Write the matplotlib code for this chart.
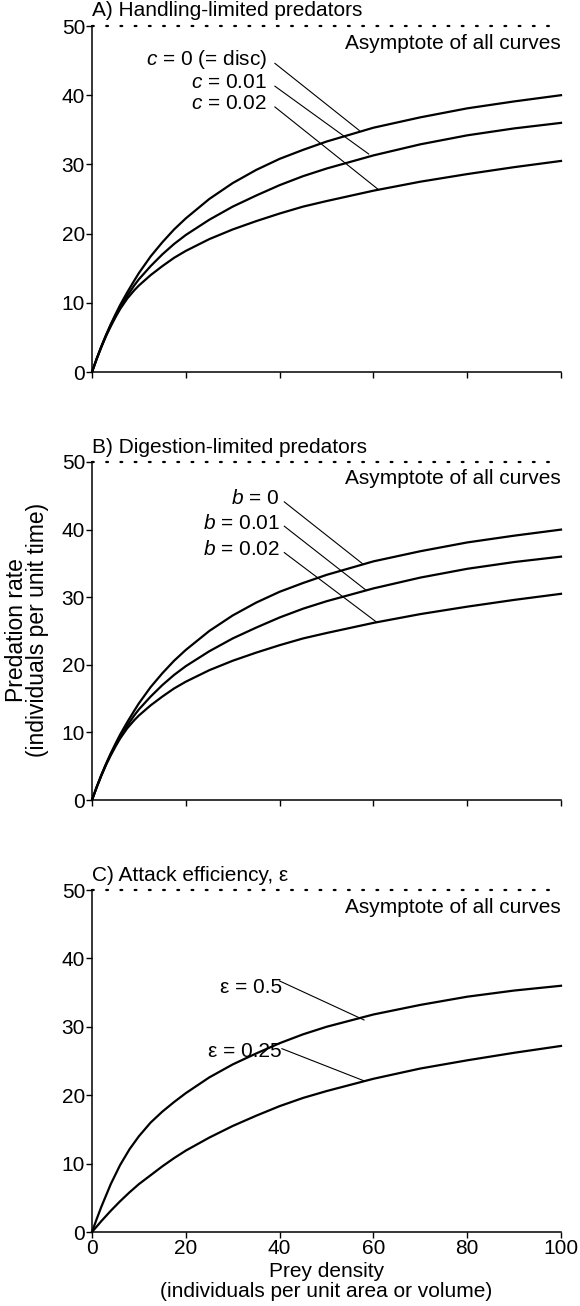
import matplotlib
matplotlib.use("Agg")
import matplotlib.pyplot as plt

plt.rcParams['font.family'] = ['Liberation Sans', 'DejaVu Sans']
plt.rcParams['mathtext.fontset'] = 'custom'
plt.rcParams['mathtext.rm'] = 'Liberation Sans'
plt.rcParams['mathtext.it'] = 'Liberation Sans:italic'

# ---- data ----
prey_ab = [0, 1, 2, 3, 4, 5, 6, 7.5, 9, 10, 12.5, 15, 17.5, 20, 25, 30, 35, 40, 45,
           50, 60, 70, 80, 90, 100]
curve_0 = [0, 1.92, 3.70, 5.36, 6.90, 8.33, 9.68, 11.5, 13.2, 14.3, 16.7, 18.75, 20.6,
           22.2, 25.0, 27.3, 29.2, 30.8, 32.1, 33.3, 35.3, 36.8, 38.1, 39.1, 40.0]
curve_001 = [0, 1.9, 3.7, 5.3, 6.8, 8.1, 9.3, 11.0, 12.5, 13.4, 15.3, 17.0, 18.5,
             19.8, 22.0, 23.9, 25.5, 27.0, 28.3, 29.4, 31.3, 32.9, 34.2, 35.2, 36.0]
curve_002 = [0, 1.9, 3.6, 5.2, 6.6, 7.9, 9.1, 10.6, 11.8, 12.5, 14.0, 15.3, 16.5,
             17.5, 19.2, 20.6, 21.8, 22.9, 23.9, 24.7, 26.2, 27.5, 28.6, 29.6, 30.5]

prey_c = [0, 1, 2, 4, 6, 8, 10, 12.5, 15, 17.5, 20, 25, 30, 35, 40, 45, 50, 60, 70, 80, 90, 100]
eps_05 = [0, 1.9, 3.7, 7.0, 9.8, 12.1, 14.0, 16.0, 17.6, 19.0, 20.3, 22.6, 24.5, 26.1,
          27.6, 28.9, 30.0, 31.8, 33.2, 34.4, 35.3, 36.0]
eps_025 = [0, 0.8, 1.6, 3.1, 4.5, 5.8, 7.0, 8.3, 9.6, 10.8, 11.9, 13.8, 15.5, 17.0,
           18.4, 19.6, 20.6, 22.4, 23.9, 25.1, 26.2, 27.2]

asymptote = 50
titles = ["A) Handling-limited predators", "B) Digestion-limited predators",
          "C) Attack efficiency, \u03b5"]
labels_a = [r"$c$ = 0 (= disc)", r"$c$ = 0.01", r"$c$ = 0.02"]
labels_b = [r"$b$ = 0", r"$b$ = 0.01", r"$b$ = 0.02"]
labels_c = ["\u03b5 = 0.5", "\u03b5 = 0.25"]
xticks = [0, 20, 40, 60, 80, 100]
yticks = [0, 10, 20, 30, 40, 50]

W, H = 580, 1306
fig = plt.figure(figsize=(W / 100, H / 100), dpi=100)

left, right = 92, 561
panels_px = [(26, 372), (462, 800), (890, 1232)]
axes = []
for top, bot in panels_px:
    ax = fig.add_axes([left / W, 1 - bot / H, (right - left) / W, (bot - top) / H])
    axes.append(ax)

FS = 15
for i, ax in enumerate(axes):
    ax.set_xlim(0, 100)
    ax.set_ylim(0, 50)
    ax.spines['top'].set_visible(False)
    ax.spines['right'].set_visible(False)
    ax.spines['left'].set_linewidth(1.1)
    ax.spines['bottom'].set_linewidth(1.1)
    ax.set_xticks(xticks)
    ax.set_yticks(yticks)
    ax.tick_params(direction='out', length=4, width=1.0, labelsize=FS, pad=1)
    if i < 2:
        ax.tick_params(axis='x', labelbottom=False)
    ax.plot([0, 100], [asymptote, asymptote], color='black', lw=1.6,
            linestyle=(0, (0.8, 5.6)), dash_capstyle='round', clip_on=False)
    ax.text(100, 47.5, "Asymptote of all curves", ha='right', va='center', fontsize=FS)
    ax.text(0, 50.8, titles[i], ha='left', va='bottom', fontsize=FS)

LW = 1.6
lead_kw = dict(color='black', lw=0.8)

# Panel A
ax = axes[0]
for y in (curve_0, curve_001, curve_002):
    ax.plot(prey_ab, y, color='black', lw=LW, clip_on=False)
starts_a = [(39, 44.6), (39, 41.3), (39, 38.3)]
ends_a = [(57, 34.9), (59, 31.5), (61, 26.4)]
texty_a = [45.2, 41.8, 38.8]
for lab, ty, s, e in zip(labels_a, texty_a, starts_a, ends_a):
    ax.text(37.3, ty, lab, ha='right', va='center', fontsize=FS)
    ax.plot([s[0], e[0]], [s[1], e[1]], **lead_kw)

# Panel B
ax = axes[1]
for y in (curve_0, curve_001, curve_002):
    ax.plot(prey_ab, y, color='black', lw=LW, clip_on=False)
starts_b = [(41, 44.1), (41, 40.5), (41, 36.6)]
ends_b = [(57.6, 35.0), (58.5, 31.0), (60.7, 26.3)]
texty_b = [44.6, 40.9, 37.0]
for lab, ty, s, e in zip(labels_b, texty_b, starts_b, ends_b):
    ax.text(40, ty, lab, ha='right', va='center', fontsize=FS)
    ax.plot([s[0], e[0]], [s[1], e[1]], **lead_kw)

# Panel C
ax = axes[2]
for y in (eps_05, eps_025):
    ax.plot(prey_c, y, color='black', lw=LW, clip_on=False)
starts_c = [(40, 36.7), (40.5, 26.8)]
ends_c = [(58, 31.0), (58, 22.1)]
texty_c = [35.8, 26.4]
for lab, ty, s, e in zip(labels_c, texty_c, starts_c, ends_c):
    ax.text(40.5, ty, lab, ha='right', va='center', fontsize=FS)
    ax.plot([s[0], e[0]], [s[1], e[1]], **lead_kw)

axes[2].set_xlabel("Prey density\n(individuals per unit area or volume)",
                   fontsize=FS, labelpad=3, linespacing=1.05)
fig.text(27 / W, 1 - 630 / H, "Predation rate\n(individuals per unit time)",
         rotation=90, ha='center', va='center', fontsize=16.5, linespacing=0.9)

fig.savefig("out.png", dpi=100)
